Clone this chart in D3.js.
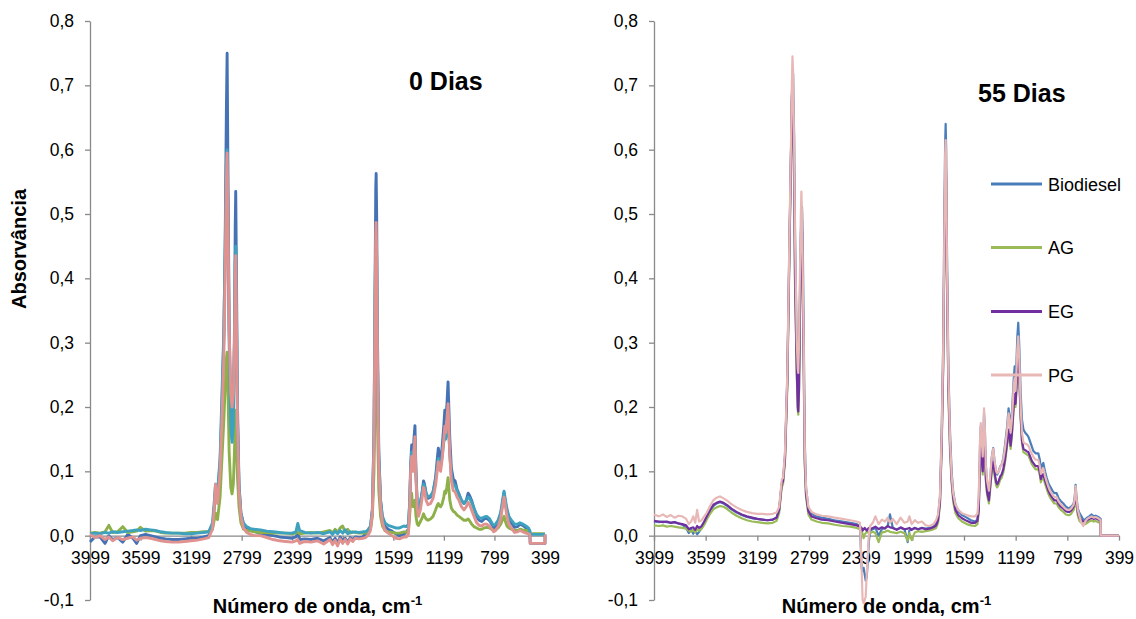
<!DOCTYPE html>
<html>
<head>
<meta charset="utf-8">
<script src="https://cdn.jsdelivr.net/npm/d3@7"></script>
<style>
  html, body { margin: 0; padding: 0; background: #fff; }
  svg text { font-family: "Liberation Sans", Arial, sans-serif; fill: #000; }
</style>
</head>
<body>
<svg id="chart" width="1136" height="619"></svg>
<script>
// ---- Spectra at 0 days (wavenumber, cm-1) ----
const wnL = [3999,3960,3920,3880,3850,3820,3780,3740,3700,3660,3630,3600,3560,3520,3480,3440,3400,3350,3300,3250,3200,3150,3100,
  3060,3030,3015,3006,2998,2990,2970,2955,2940,2930,2920,2914,2908,2898,2885,2875,2865,2856,2850,2846,2840,2832,2820,2805,2785,2760,2730,2700,
  2650,2600,2550,2500,2450,2400,2370,2355,2340,2300,2250,2200,2150,2100,2080,2060,2040,2020,2000,1980,1960,1940,1920,1900,1870,1840,
  1820,1800,1780,1765,1752,1744,1738,1735,1731,1724,1714,1700,1685,1665,1640,1610,1580,1550,1515,
  1495,1480,1470,1462,1454,1449,1443,1436,1428,1420,1410,1400,1385,1370,1360,1352,1340,1325,1305,1285,
  1265,1252,1243,1235,1225,1212,1200,1192,1185,1176,1166,1160,1152,1140,1125,1110,1095,1080,1060,1040,
  1022,1007,995,980,960,940,920,900,880,860,840,820,805,790,770,750,735,723,712,700,
  685,665,640,615,597,575,550,530,520,
  516,399,399];

const bioL = [-0.010,-0.002,-0.002,-0.012,0.000,-0.006,-0.003,-0.010,0.002,-0.004,-0.012,0.000,0.002,0.000,-0.002,-0.004,-0.005,-0.006,-0.006,-0.005,-0.004,-0.004,-0.002,
  0.000,0.012,0.045,0.075,0.068,0.065,0.11,0.2,0.31,0.45,0.66,0.75,0.58,0.33,0.18,0.15,0.19,0.32,0.48,0.535,0.4,0.2,0.08,0.035,0.018,0.011,0.009,0.007,
  0.003,0.002,0.0,-0.002,-0.003,-0.004,-0.002,0.004,-0.006,-0.005,-0.006,-0.004,-0.008,-0.003,-0.01,-0.004,-0.012,-0.002,-0.008,-0.004,-0.01,-0.003,-0.006,-0.002,-0.003,-0.002,
  0.003,0.006,0.012,0.04,0.16,0.38,0.54,0.563,0.5,0.3,0.13,0.055,0.025,0.014,0.01,0.007,0.003,0.0,0.002,
  0.006,0.01,0.05,0.11,0.141,0.13,0.12,0.15,0.171,0.1,0.05,0.035,0.05,0.07,0.085,0.08,0.066,0.058,0.06,0.068,
  0.09,0.118,0.136,0.125,0.115,0.14,0.17,0.195,0.18,0.2,0.239,0.2,0.15,0.105,0.088,0.085,0.072,0.065,0.055,0.05,
  0.055,0.066,0.062,0.055,0.042,0.03,0.024,0.022,0.026,0.027,0.024,0.018,0.012,0.015,0.02,0.032,0.05,0.067,0.05,0.038,
  0.026,0.02,0.013,0.014,0.018,0.016,0.012,0.009,0.008,
  -0.012,-0.012,0.002];

const agL = [0.004,0.005,0.004,0.006,0.016,0.005,0.006,0.014,0.005,0.006,0.007,0.013,0.007,0.008,0.007,0.005,0.004,0.004,0.004,0.004,0.005,0.005,0.006,
  0.006,0.01,0.025,0.035,0.028,0.025,0.06,0.12,0.18,0.23,0.275,0.285,0.23,0.13,0.075,0.065,0.08,0.13,0.18,0.195,0.15,0.09,0.045,0.02,0.01,0.008,0.007,0.006,
  0.005,0.005,0.004,0.004,0.004,0.003,0.004,0.006,0.003,0.004,0.005,0.004,0.006,0.008,0.004,0.01,0.005,0.012,0.015,0.006,0.01,0.004,0.006,0.005,0.004,0.004,
  0.004,0.006,0.01,0.03,0.1,0.24,0.32,0.33,0.3,0.17,0.07,0.03,0.015,0.008,0.006,0.005,0.004,0.004,0.006,
  0.005,0.008,0.03,0.055,0.066,0.05,0.045,0.05,0.055,0.03,0.018,0.016,0.022,0.028,0.034,0.03,0.026,0.024,0.026,0.03,
  0.04,0.047,0.05,0.046,0.045,0.05,0.06,0.069,0.066,0.075,0.09,0.075,0.055,0.043,0.038,0.036,0.032,0.03,0.027,0.024,
  0.024,0.026,0.023,0.018,0.014,0.012,0.01,0.01,0.012,0.013,0.012,0.01,0.008,0.009,0.012,0.018,0.025,0.03,0.022,0.015,
  0.012,0.01,0.008,0.008,0.01,0.009,0.008,0.008,0.007,
  0.003,0.003,0.003];

const egL = [0.003,0.004,0.003,0.005,0.004,0.006,0.005,0.006,0.007,0.008,0.009,0.008,0.010,0.009,0.008,0.006,0.005,0.004,0.004,0.003,0.003,0.004,0.005,
  0.006,0.02,0.055,0.08,0.07,0.068,0.12,0.22,0.32,0.44,0.58,0.6,0.5,0.3,0.17,0.145,0.17,0.3,0.42,0.45,0.35,0.18,0.075,0.035,0.02,0.014,0.011,0.01,
  0.009,0.007,0.006,0.005,0.004,0.004,0.006,0.019,0.008,0.005,0.004,0.005,0.003,0.006,0.002,0.007,0.003,0.008,0.004,0.009,0.003,0.006,0.005,0.006,0.005,0.006,
  0.006,0.009,0.015,0.04,0.15,0.37,0.46,0.46,0.43,0.27,0.12,0.055,0.03,0.02,0.016,0.014,0.012,0.012,0.015,
  0.014,0.018,0.05,0.1,0.13,0.12,0.11,0.135,0.15,0.095,0.05,0.04,0.052,0.068,0.08,0.077,0.066,0.06,0.062,0.068,
  0.085,0.108,0.12,0.112,0.108,0.125,0.145,0.155,0.15,0.16,0.175,0.16,0.125,0.092,0.08,0.078,0.07,0.063,0.055,0.05,
  0.054,0.06,0.058,0.052,0.042,0.033,0.028,0.027,0.029,0.03,0.027,0.02,0.016,0.018,0.024,0.036,0.055,0.069,0.055,0.042,
  0.03,0.024,0.018,0.018,0.02,0.018,0.015,0.012,0.008,
  0.002,0.002,0.002];

const pgL = [0.002,-0.003,0.000,-0.006,-0.002,-0.008,-0.003,-0.006,-0.004,-0.002,-0.007,-0.004,-0.003,-0.004,-0.006,-0.008,-0.009,-0.010,-0.010,-0.009,-0.008,-0.007,-0.005,
  -0.003,0.01,0.045,0.08,0.06,0.05,0.1,0.18,0.28,0.4,0.55,0.595,0.5,0.32,0.22,0.2,0.22,0.3,0.4,0.435,0.33,0.17,0.07,0.03,0.012,0.005,0.002,0.0,
  0.0,-0.003,-0.006,-0.008,-0.009,-0.01,-0.008,-0.006,-0.012,-0.009,-0.01,-0.008,-0.013,-0.006,-0.014,-0.007,-0.016,-0.005,-0.012,-0.006,-0.013,-0.005,-0.009,-0.004,-0.005,-0.004,
  -0.003,0.0,0.008,0.035,0.14,0.33,0.47,0.487,0.44,0.26,0.11,0.045,0.02,0.008,0.004,0.0,-0.004,-0.005,-0.002,
  -0.002,0.002,0.04,0.1,0.123,0.11,0.1,0.13,0.154,0.09,0.042,0.03,0.04,0.06,0.075,0.07,0.055,0.048,0.05,0.058,
  0.078,0.1,0.115,0.105,0.1,0.12,0.15,0.17,0.16,0.18,0.205,0.17,0.125,0.085,0.07,0.068,0.06,0.055,0.045,0.04,
  0.045,0.052,0.048,0.04,0.03,0.02,0.016,0.015,0.018,0.018,0.015,0.01,0.006,0.008,0.014,0.026,0.045,0.06,0.045,0.03,
  0.018,0.012,0.005,0.006,0.008,0.006,0.004,0.003,0.002,
  -0.012,-0.012,0.002];

// ---- Spectra at 55 days ----
const wnR = [3999,3960,3930,3900,3870,3840,3810,3780,3750,3730,3712,3695,3680,3665,3650,3630,3610,3590,3565,3540,3515,3488,3460,3430,3400,3360,3320,3280,3240,3200,3160,3120,3080,3050,
  3030,3018,3010,3000,2985,2967,2951,2938,2932,2927,2922,2914,2907,2894,2886,2882,2876,2869,2862,2858,2853,2848,2840,2832,2822,2804,2780,2740,2700,
  2650,2600,2540,2480,2430,2404,2392,2384,2376,2368,2360,2352,2344,2336,2326,2305,2285,2260,2235,2210,2190,2172,2150,2120,2090,2060,2035,2022,2004,1980,1955,1925,1895,1865,1835,
  1815,1800,1785,1772,1760,1751,1745,1741,1737,1731,1720,1707,1695,1682,1665,1643,1615,1578,1545,1514,1495,
  1485,1475,1469,1462,1454,1448,1444,1438,1430,1420,1406,1395,1385,1373,1362,1350,1342,1330,1318,1308,
  1295,1282,1265,1254,1246,1238,1228,1215,1207,1200,1193,1186,1179,1172,1160,1150,1139,1125,1112,1101,
  1085,1073,1063,1045,1024,1012,1004,994,985,972,959,946,934,915,900,882,866,850,830,810,
  795,783,770,760,750,742,735,728,718,705,690,676,660,645,630,611,595,580,560,546,
  541,540,399];

const bioR = [0.022,0.021,0.022,0.021,0.020,0.021,0.019,0.017,0.012,0.004,0.010,0.003,0.008,0.002,0.006,0.012,0.020,0.028,0.038,0.046,0.050,0.052,0.050,0.046,0.041,0.036,0.032,0.029,0.027,0.026,0.025,0.024,0.025,0.028,
  0.04,0.065,0.082,0.086,0.125,0.245,0.45,0.6,0.68,0.715,0.718,0.62,0.47,0.3,0.235,0.228,0.26,0.38,0.47,0.5,0.511,0.47,0.32,0.15,0.075,0.042,0.034,0.03,0.028,
  0.026,0.024,0.022,0.02,0.018,0.015,-0.05,-0.055,-0.05,-0.06,-0.07,-0.065,-0.04,-0.01,0.008,0.01,0.012,0.0,0.01,0.012,0.015,0.033,0.012,0.01,0.012,0.01,-0.01,0.008,0.01,0.012,0.01,0.012,0.011,0.012,0.014,
  0.02,0.03,0.06,0.16,0.3,0.5,0.61,0.64,0.6,0.45,0.26,0.16,0.1,0.067,0.048,0.038,0.032,0.028,0.024,0.022,0.025,
  0.05,0.14,0.17,0.15,0.125,0.16,0.19,0.17,0.11,0.08,0.062,0.09,0.12,0.136,0.115,0.097,0.095,0.1,0.108,0.11,
  0.12,0.14,0.17,0.198,0.185,0.165,0.19,0.24,0.263,0.24,0.27,0.31,0.331,0.3,0.22,0.18,0.165,0.16,0.157,0.154,
  0.145,0.138,0.132,0.128,0.128,0.118,0.103,0.11,0.113,0.1,0.09,0.082,0.077,0.07,0.066,0.066,0.058,0.054,0.05,0.045,
  0.043,0.043,0.045,0.047,0.05,0.06,0.079,0.06,0.042,0.035,0.03,0.025,0.025,0.028,0.03,0.033,0.03,0.031,0.029,0.027,
  0.026,0.0,0.0];

const agR = [0.016,0.015,0.016,0.014,0.015,0.014,0.013,0.012,0.011,0.008,0.006,0.009,0.005,0.010,0.008,0.011,0.017,0.025,0.034,0.041,0.044,0.046,0.045,0.041,0.036,0.031,0.027,0.024,0.022,0.021,0.020,0.019,0.020,0.023,
  0.035,0.06,0.075,0.08,0.115,0.23,0.43,0.59,0.67,0.69,0.66,0.54,0.39,0.25,0.195,0.188,0.225,0.35,0.45,0.48,0.46,0.38,0.26,0.11,0.06,0.033,0.025,0.022,0.02,
  0.019,0.017,0.015,0.014,0.012,0.01,0.008,0.003,-0.004,0.002,0.004,0.006,0.005,0.006,0.004,0.006,0.004,-0.01,0.005,0.006,0.008,0.006,0.005,0.004,0.006,0.004,-0.008,0.004,-0.007,0.005,0.007,0.006,0.007,0.008,0.01,
  0.012,0.02,0.048,0.135,0.26,0.44,0.55,0.58,0.54,0.4,0.22,0.13,0.082,0.052,0.035,0.027,0.022,0.018,0.016,0.015,0.018,
  0.036,0.11,0.135,0.115,0.095,0.13,0.16,0.135,0.085,0.063,0.05,0.075,0.097,0.11,0.093,0.078,0.075,0.08,0.087,0.09,
  0.098,0.113,0.14,0.16,0.15,0.135,0.155,0.195,0.215,0.2,0.225,0.26,0.275,0.25,0.18,0.143,0.13,0.128,0.126,0.125,
  0.117,0.111,0.108,0.103,0.103,0.094,0.083,0.089,0.091,0.081,0.073,0.065,0.06,0.054,0.05,0.05,0.044,0.04,0.037,0.033,
  0.032,0.032,0.034,0.037,0.04,0.049,0.065,0.047,0.031,0.023,0.02,0.018,0.018,0.02,0.022,0.024,0.022,0.023,0.021,0.02,
  0.019,0.0,0.0];

const egR = [0.023,0.022,0.021,0.022,0.020,0.021,0.019,0.018,0.016,0.010,0.012,0.013,0.009,0.015,0.012,0.015,0.022,0.030,0.040,0.048,0.051,0.053,0.051,0.047,0.042,0.037,0.033,0.030,0.028,0.026,0.025,0.024,0.025,0.028,
  0.04,0.065,0.08,0.085,0.12,0.24,0.44,0.6,0.68,0.70,0.67,0.55,0.4,0.26,0.2,0.193,0.23,0.36,0.46,0.49,0.47,0.39,0.27,0.12,0.065,0.038,0.03,0.027,0.025,
  0.024,0.022,0.020,0.018,0.016,0.014,0.012,0.008,0.01,0.012,0.01,0.008,0.01,0.012,0.01,0.012,0.014,0.01,0.013,0.011,0.015,0.013,0.012,0.009,0.013,0.01,0.011,0.012,0.009,0.012,0.01,0.012,0.01,0.011,0.013,
  0.016,0.024,0.052,0.14,0.27,0.45,0.56,0.59,0.55,0.41,0.23,0.14,0.088,0.058,0.04,0.032,0.027,0.023,0.02,0.02,0.023,
  0.04,0.115,0.14,0.12,0.1,0.135,0.165,0.14,0.09,0.068,0.055,0.08,0.102,0.115,0.098,0.083,0.08,0.085,0.092,0.095,
  0.103,0.118,0.145,0.165,0.155,0.14,0.16,0.2,0.22,0.205,0.23,0.265,0.28,0.255,0.185,0.148,0.135,0.133,0.131,0.13,
  0.122,0.116,0.113,0.108,0.108,0.099,0.088,0.094,0.096,0.086,0.078,0.07,0.065,0.059,0.055,0.055,0.049,0.045,0.042,0.038,
  0.037,0.037,0.039,0.042,0.045,0.054,0.07,0.052,0.036,0.028,0.024,0.022,0.022,0.024,0.026,0.028,0.026,0.027,0.025,0.024,
  0.023,0.0,0.0];

const pgR = [0.033,0.030,0.033,0.029,0.032,0.028,0.031,0.030,0.026,0.018,0.022,0.030,0.020,0.040,0.022,0.024,0.030,0.036,0.046,0.055,0.059,0.061,0.058,0.054,0.049,0.044,0.040,0.037,0.035,0.034,0.034,0.033,0.034,0.036,
  0.045,0.07,0.087,0.09,0.13,0.253,0.46,0.615,0.7,0.745,0.72,0.6,0.46,0.305,0.26,0.253,0.3,0.41,0.5,0.535,0.5,0.42,0.3,0.14,0.075,0.045,0.037,0.033,0.031,
  0.030,0.028,0.026,0.024,0.022,0.020,-0.05,-0.1,-0.105,-0.1,-0.095,-0.06,-0.03,0.0,0.015,0.02,0.03,0.018,0.025,0.022,0.028,0.02,0.026,0.018,0.028,0.02,0.022,0.03,0.018,0.024,0.02,0.022,0.016,0.015,0.018,
  0.024,0.033,0.062,0.155,0.29,0.48,0.59,0.615,0.58,0.43,0.25,0.15,0.095,0.065,0.048,0.04,0.035,0.032,0.03,0.03,0.034,
  0.06,0.15,0.175,0.15,0.123,0.16,0.198,0.17,0.11,0.085,0.07,0.095,0.12,0.135,0.115,0.1,0.097,0.1,0.107,0.11,
  0.118,0.135,0.165,0.19,0.18,0.16,0.18,0.23,0.245,0.225,0.255,0.29,0.31,0.28,0.2,0.16,0.145,0.143,0.142,0.14,
  0.132,0.127,0.123,0.118,0.118,0.108,0.096,0.102,0.105,0.093,0.084,0.076,0.07,0.064,0.06,0.06,0.053,0.049,0.045,0.041,
  0.04,0.04,0.042,0.045,0.048,0.058,0.077,0.058,0.04,0.03,0.02,0.015,0.022,0.026,0.028,0.03,0.028,0.029,0.027,0.025,
  0.024,0.0,0.0];

// ---- Axes and labels ----
const seriesNames = ["Biodiesel", "AG", "EG", "PG"];
const xTicks = [3999, 3599, 3199, 2799, 2399, 1999, 1599, 1199, 799, 399];
const yTicks = [-0.1, 0, 0.1, 0.2, 0.3, 0.4, 0.5, 0.6, 0.7, 0.8];
const yTickLabels = ["-0,1", "0,0", "0,1", "0,2", "0,3", "0,4", "0,5", "0,6", "0,7", "0,8"];

const svg = d3.select("#chart");
svg.append("rect").attr("width", 1136).attr("height", 619).attr("fill", "#fff");

function drawPanel(cfg) {
  const x = d3.scaleLinear().domain([3999, 399]).range([cfg.x0, cfg.x1]);
  const y = d3.scaleLinear().domain([-0.1, 0.8]).range([600, 21]);
  const g = svg.append("g");

  // y axis
  const ya = g.append("g").attr("transform", `translate(${cfg.x0},0)`)
    .call(d3.axisLeft(y).tickValues(yTicks).tickFormat((d, i) => yTickLabels[i])
      .tickSize(5).tickSizeOuter(0).tickPadding(11));
  // x axis crossing at zero
  const xa = g.append("g").attr("transform", `translate(0,${y(0)})`)
    .call(d3.axisBottom(x).tickValues(xTicks).tickFormat(d3.format("d"))
      .tickSize(5).tickSizeOuter(0).tickPadding(11));
  [ya, xa].forEach(a => {
    a.select(".domain").attr("stroke", "#898989").attr("stroke-width", 1.3);
    a.selectAll(".tick line").attr("stroke", "#898989").attr("stroke-width", 1.3);
    a.selectAll(".tick text").attr("font-size", 17.5)
      .attr("font-family", '"Liberation Sans", Arial, sans-serif').attr("fill", "#000");
  });

  // spectra
  const line = d3.line().x(d => x(d[0])).y(d => y(d[1]));
  cfg.series.forEach((vals, k) => {
    const pts = cfg.wn.map((w, i) => [w, vals[i]]);
    g.append("path").datum(pts)
      .attr("d", line)
      .attr("fill", "none")
      .attr("stroke", cfg.colours[k])
      .attr("stroke-width", cfg.lineWidth)
      .attr("stroke-linejoin", "round");
  });

  // x axis title with superscript
  const t = g.append("text")
    .attr("x", (cfg.x0 + cfg.x1) / 2).attr("y", 613)
    .attr("text-anchor", "middle").attr("font-size", 20).attr("font-weight", "bold");
  t.append("tspan").text("Número de onda, cm");
  t.append("tspan").attr("dy", -8).attr("font-size", 13).text("-1");

  // panel label
  g.append("text").attr("x", cfg.labelX).attr("y", cfg.labelY)
    .attr("font-size", 25).attr("font-weight", "bold").text(cfg.label);
  return { x, y, g };
}

drawPanel({
  x0: 90, x1: 545, wn: wnL, series: [bioL, agL, egL, pgL],
  colours: ["#4472b4", "#8db04b", "#3ea2bf", "#df928f"], lineWidth: 2.9,
  label: "0 Dias", labelX: 409, labelY: 90
});

drawPanel({
  x0: 654, x1: 1119, wn: wnR, series: [bioR, agR, egR, pgR],
  colours: ["#4a7ebb", "#9bbb59", "#7030a0", "#e8b8b7"], lineWidth: 2.2,
  label: "55 Dias", labelX: 978, labelY: 102
});

// y axis title
svg.append("text")
  .attr("transform", "translate(26,249) rotate(-90)")
  .attr("text-anchor", "middle").attr("font-size", 20).attr("font-weight", "bold")
  .text("Absorvância");

// legend
const legendColours = ["#4a7ebb", "#9bbb59", "#7030a0", "#e8b8b7"];
const legendY = [184, 247.5, 311.5, 375];
const lg = svg.append("g");
seriesNames.forEach((name, i) => {
  lg.append("line").attr("x1", 991).attr("x2", 1042)
    .attr("y1", legendY[i]).attr("y2", legendY[i])
    .attr("stroke", legendColours[i]).attr("stroke-width", 3);
  lg.append("text").attr("x", 1048).attr("y", legendY[i] + 6.5)
    .attr("font-size", 18).text(name);
});
</script>
</body>
</html>
